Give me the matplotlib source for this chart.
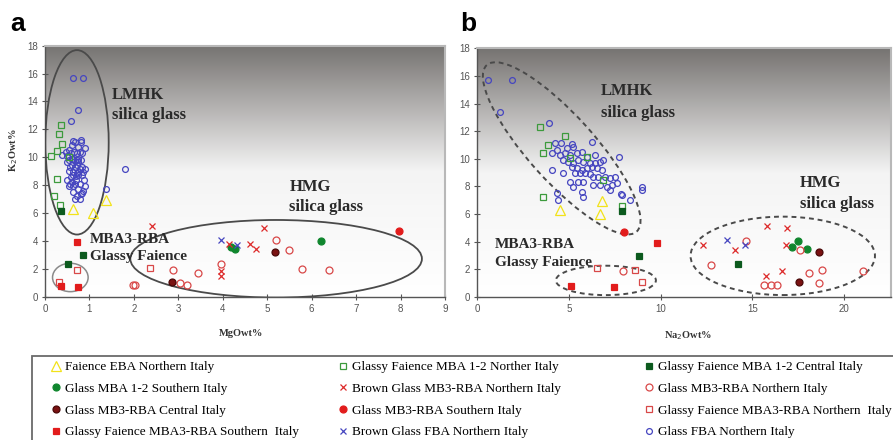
import numpy as np
import matplotlib
matplotlib.use("Agg")
import matplotlib.pyplot as plt
from matplotlib.patches import Ellipse, Rectangle
from matplotlib.lines import Line2D
from matplotlib.transforms import Affine2D
from matplotlib.colors import LinearSegmentedColormap

# --- data (MgO, Na2O, K2O wt%) ---
eba_mgo = [0.64, 1.09, 1.37]
eba_na2o = [4.5, 6.68, 6.78]
eba_k2o = [6.3, 6.0, 6.93]

gf12n_mgo = [0.35, 0.32, 0.39, 0.28, 0.55, 0.14, 0.28, 0.21, 0.34]
gf12n_na2o = [3.42, 4.78, 3.84, 3.56, 5.05, 5.96, 6.83, 3.56, 7.9]
gf12n_k2o = [12.3, 11.65, 10.97, 10.42, 10.03, 10.1, 8.45, 7.2, 6.55]

gf12c_mgo = [0.36, 0.86, 0.51]
gf12c_na2o = [7.88, 8.79, 14.2]
gf12c_k2o = [6.18, 2.97, 2.34]

g12s_mgo = [6.2, 4.18, 4.27]
g12s_na2o = [17.5, 17.14, 17.98]
g12s_k2o = [4.02, 3.57, 3.45]

bmb3n_mgo = [2.41, 4.93, 4.13, 4.61, 4.75, 3.96, 3.96]
bmb3n_na2o = [15.77, 16.9, 12.3, 16.82, 14.04, 16.62, 15.73]
bmb3n_k2o = [5.1, 4.96, 3.78, 3.76, 3.4, 1.85, 1.5]

gmb3n_mgo = [5.2, 5.48, 3.95, 5.78, 6.38, 2.87, 3.45, 3.04, 3.19, 1.99, 2.02]
gmb3n_na2o = [14.62, 17.58, 12.72, 18.8, 21.0, 7.92, 18.1, 18.62, 16.35, 15.62, 16.0]
gmb3n_k2o = [4.05, 3.37, 2.33, 1.96, 1.89, 1.89, 1.72, 1.0, 0.84, 0.84, 0.86]

gmb3c_mgo = [2.85, 5.18]
gmb3c_na2o = [17.53, 18.62]
gmb3c_k2o = [1.06, 3.24]

gmb3s_mgo = [7.97]
gmb3s_na2o = [7.97]
gmb3s_k2o = [4.72]

gf3n_mgo = [2.36, 0.71, 0.32]
gf3n_na2o = [6.54, 8.6, 8.97]
gf3n_k2o = [2.06, 1.95, 1.06]

gf3s_mgo = [0.71, 0.36, 0.75]
gf3s_na2o = [9.77, 5.09, 7.43]
gf3s_k2o = [3.92, 0.8, 0.71]

bfban_mgo = [3.95, 4.33]
bfban_na2o = [13.59, 14.59]
bfban_k2o = [4.1, 3.73]

fba_mgo = [0.64, 0.85, 0.74, 0.58, 0.82, 0.64, 0.80, 0.68, 0.60, 0.75,
           0.89, 0.53, 0.66, 0.79, 0.47, 0.59, 0.71, 0.83, 0.38, 0.49,
           0.64, 0.75, 0.60, 0.71, 0.81, 0.53, 0.68, 0.75, 0.49, 0.60,
           0.71, 0.83, 0.56, 0.68, 1.80, 0.79, 0.90, 0.53, 0.64, 0.75,
           0.86, 0.71, 0.62, 0.83, 0.75, 0.69, 0.58, 0.49, 0.70, 0.88,
           0.60, 0.56, 0.68, 0.79, 0.64, 0.90, 0.53, 0.75, 1.37, 0.86,
           0.64, 0.80, 0.71, 0.83, 0.79, 0.68]
fba_na2o = [0.60, 1.89, 1.24, 3.92, 6.23, 4.23, 4.54, 5.14, 5.23, 4.87,
            4.32, 5.69, 4.05, 4.78, 5.41, 4.51, 5.05, 6.42, 5.96, 7.74,
            4.69, 5.51, 6.87, 4.96, 5.78, 6.69, 6.14, 5.23, 6.42, 5.14,
            6.23, 5.41, 5.96, 6.51, 4.05, 5.69, 6.78, 5.87, 4.69, 5.32,
            5.60, 6.14, 6.60, 6.96, 7.50, 6.33, 7.23, 5.05, 5.51, 5.78,
            7.60, 6.33, 6.69, 7.32, 5.23, 7.05, 8.96, 7.23, 8.96, 5.69,
            4.32, 7.87, 5.78, 7.81, 8.32, 4.41]
fba_k2o = [15.68, 15.68, 13.38, 12.61, 11.23, 11.16, 11.12, 11.07, 10.87, 10.75,
           10.63, 10.51, 10.39, 10.39, 10.39, 10.27, 10.27, 10.27, 10.15, 10.10,
           9.91, 9.91, 9.91, 9.79, 9.79, 9.79, 9.71, 9.66, 9.66, 9.42,
           9.42, 9.30, 9.30, 9.30, 9.18, 9.18, 9.18, 8.99, 8.94, 8.94,
           8.94, 8.89, 8.70, 8.70, 8.70, 8.65, 8.58, 8.34, 8.34, 8.34,
           8.22, 8.10, 8.10, 8.10, 7.97, 7.97, 7.97, 7.73, 7.73, 7.61,
           7.49, 7.37, 7.25, 7.42, 7.01, 7.01]

RED = "#dd2a2a"
BLUE = "#4646c0"
# label, mgo, na2o, k2o, marker, size, face, edge
groups = [
    ("Glass FBA Northern Italy", fba_mgo, fba_na2o, fba_k2o, "o", 4.2, "none", BLUE),
    ("Faience EBA Northern Italy", eba_mgo, eba_na2o, eba_k2o, "^", 6.5, "none", "#f2e21a"),
    ("Glassy Faience MBA 1-2 Norther Italy", gf12n_mgo, gf12n_na2o, gf12n_k2o, "s", 5, "none", "#3c9a3c"),
    ("Glassy Faience MBA 1-2 Central Italy", gf12c_mgo, gf12c_na2o, gf12c_k2o, "s", 5, "#0c5a1e", "#0c5a1e"),
    ("Glass MBA 1-2 Southern Italy", g12s_mgo, g12s_na2o, g12s_k2o, "o", 5, "#10862e", "#10862e"),
    ("Brown Glass MB3-RBA Northern Italy", bmb3n_mgo, bmb3n_na2o, bmb3n_k2o, "x", 4, RED, RED),
    ("Glass MB3-RBA Northern Italy", gmb3n_mgo, gmb3n_na2o, gmb3n_k2o, "o", 5, "none", "#d84848"),
    ("Glass MB3-RBA Central Italy", gmb3c_mgo, gmb3c_na2o, gmb3c_k2o, "o", 5, "#7a1212", "#4a0808"),
    ("Glass MB3-RBA Southern Italy", gmb3s_mgo, gmb3s_na2o, gmb3s_k2o, "o", 5, "#e21c1c", "#e21c1c"),
    ("Glassy Faience MBA3-RBA Northern  Italy", gf3n_mgo, gf3n_na2o, gf3n_k2o, "s", 5, "none", "#d84848"),
    ("Glassy Faience MBA3-RBA Southern  Italy", gf3s_mgo, gf3s_na2o, gf3s_k2o, "s", 5, "#e21c1c", "#e21c1c"),
    ("Brown Glass FBA Northern Italy", bfban_mgo, bfban_na2o, bfban_k2o, "x", 4, BLUE, BLUE),
]

legend_cols = [
    ["Faience EBA Northern Italy", "Glass MBA 1-2 Southern Italy",
     "Glass MB3-RBA Central Italy", "Glassy Faience MBA3-RBA Southern  Italy"],
    ["Glassy Faience MBA 1-2 Norther Italy", "Brown Glass MB3-RBA Northern Italy",
     "Glass MB3-RBA Southern Italy", "Brown Glass FBA Northern Italy"],
    ["Glassy Faience MBA 1-2 Central Italy", "Glass MB3-RBA Northern Italy",
     "Glassy Faience MBA3-RBA Northern  Italy", "Glass FBA Northern Italy"],
]

W, H = 893, 440
fig = plt.figure(figsize=(W / 100, H / 100), dpi=100)
serif = "Liberation Serif"
sans = "Liberation Sans"

bg = LinearSegmentedColormap.from_list("bg", ["#ffffff", "#f4f4f4", "#767371"])


def px_axes(l, r, t, b):
    return fig.add_axes([l / W, 1 - b / H, (r - l) / W, (b - t) / H])


def ring(ax, cx, cy, rx, ry, ang, sx, sy, **kw):
    # ellipse sized in screen pixels, centred on a data point
    tr = Affine2D().scale(1 / sx, 1 / sy).translate(cx, cy) + ax.transData
    ax.add_patch(Ellipse((0, 0), 2 * rx, 2 * ry, angle=ang, transform=tr,
                         fill=False, zorder=3, **kw))


def setup(ax, xmax, xticks, xlabel):
    ax.imshow(np.linspace(0, 1, 256)[:, None], cmap=bg, origin="lower",
              extent=(0, 1, 0, 1), transform=ax.transAxes, aspect="auto", zorder=0)
    ax.set_xlim(0, xmax)
    ax.set_ylim(0, 18)
    ax.set_xticks(xticks)
    ax.set_yticks(range(0, 19, 2))
    ax.tick_params(direction="inout", length=4, width=0.8, color="#555555",
                   labelsize=7, labelcolor="#555555", pad=3)
    for lab in ax.get_xticklabels() + ax.get_yticklabels():
        lab.set_fontfamily(sans)
    for s in ("left", "bottom"):
        ax.spines[s].set_color("#555555")
        ax.spines[s].set_linewidth(1.0)
    for s in ("top", "right"):
        ax.spines[s].set_color("#b8b8b8")
        ax.spines[s].set_linewidth(1.5)
    ax.set_xlabel(xlabel, fontfamily=serif, fontweight="bold", fontsize=7.5,
                  color="#333333", labelpad=8)


def label(ax, x, y, lines, size):
    for i, t in enumerate(lines):
        ax.text(x, y[i], t, fontfamily=serif, fontweight="bold", fontsize=size,
                color="#2a2a2a", va="center", ha="left", zorder=4)


# ---------- panel a ----------
axa = px_axes(45, 445, 45.7, 296.7)
setup(axa, 9, range(0, 10), "MgOwt%")
axa.xaxis.set_label_coords(0.49, -0.13)
axa.set_ylabel("K$_2$Owt%", fontfamily=serif, fontweight="bold", fontsize=7.5,
               color="#333333")
axa.yaxis.set_label_coords(-0.062, 0.584)
for name, mg, na, k, m, ms, fc, ec in groups:
    axa.plot(mg, k, ls="none", marker=m, ms=ms, mfc=fc, mec=ec, mew=0.9, zorder=5)
sxa, sya = 400 / 9, 251 / 18
ring(axa, 0.72, 11.07, 31.7, 92.2, 0, sxa, sya, ec="#4a4a4a", lw=1.3)
ring(axa, 0.57, 1.38, 17.8, 14.2, 0, sxa, sya, ec="#8a8a8a", lw=1.1)
ring(axa, 5.2, 2.72, 145.8, 38.8, 0, sxa, sya, ec="#4a4a4a", lw=1.3)
label(axa, 1.5, [14.47, 13.04], ["LMHK", "silica glass"], 12)
label(axa, 5.5, [7.9, 6.41], ["HMG", "silica glass"], 12)
label(axa, 1.01, [4.11, 2.87], ["MBA3-RBA", "Glassy Faience"], 11)

# ---------- panel b ----------
axb = px_axes(477.3, 891, 48.3, 296.7)
setup(axb, 22.55, [0, 5, 10, 15, 20], "Na$_2$Owt%")
axb.xaxis.set_label_coords(0.51, -0.13)
for name, mg, na, k, m, ms, fc, ec in groups:
    axb.plot(na, k, ls="none", marker=m, ms=ms, mfc=fc, mec=ec, mew=0.9, zorder=5)
sxb, syb = 413.7 / 22.55, 248.4 / 18
dash = dict(ec="#4a4a4a", lw=1.4, ls=(0, (2.5, 2)))
ring(axb, 4.6, 10.75, 112, 33, -48, sxb, syb, **dash)
ring(axb, 7.01, 1.18, 50, 14.7, 0, sxb, syb, **dash)
ring(axb, 16.65, 2.96, 92.2, 39.2, 0, sxb, syb, **dash)
label(axb, 6.74, [14.93, 13.33], ["LMHK", "silica glass"], 12)
label(axb, 17.58, [8.26, 6.71], ["HMG", "silica glass"], 12)
label(axb, 0.96, [3.79, 2.46], ["MBA3-RBA", "Glassy Faience"], 11)

fig.text(10 / W, 1 - 31 / H, "a", fontfamily=sans, fontweight="bold", fontsize=19)
fig.text(460 / W, 1 - 31 / H, "b", fontfamily=sans, fontweight="bold", fontsize=19)

# ---------- legend ----------
style = {g[0]: g for g in groups}
fig.add_artist(Rectangle((32 / W, -0.2), 1.2, 0.2 + 1 - 356 / H, transform=fig.transFigure,
                         fill=False, ec="#6a6a6a", lw=1.3))
col_x = [50.7, 337.7, 643.7]
for cx, names in zip(col_x, legend_cols):
    handles = []
    for n in names:
        _, _, _, _, m, ms, fc, ec = style[n]
        handles.append(Line2D([], [], ls="none", marker=m, ms=ms, mfc=fc, mec=ec, mew=0.9))
    fig.legend(handles, names, loc="upper left", bbox_to_anchor=(cx / W, 1 - 361 / H),
               frameon=False, borderpad=0, borderaxespad=0, handlelength=0.8,
               handletextpad=0.3, labelspacing=0.72,
               prop={"family": serif, "size": 9.5})

fig.savefig("out.png", dpi=100)
